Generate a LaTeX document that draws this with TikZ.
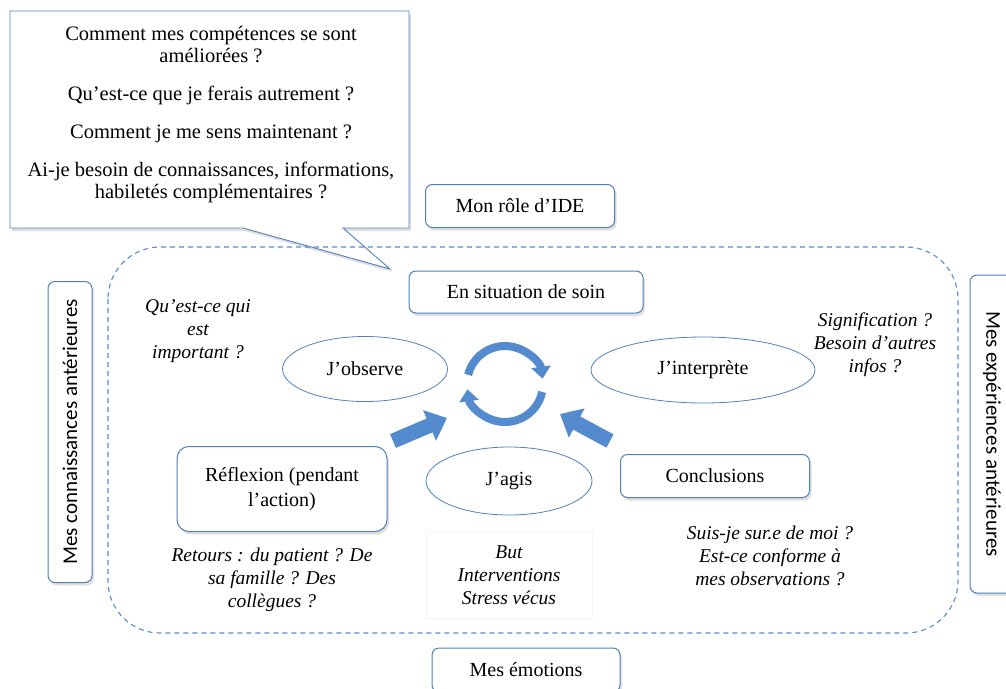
\documentclass[tikz,border=0pt]{standalone}
\usepackage{fontspec}
\setmainfont{Liberation Serif}
\newfontfamily\sidefont{Carlito}
\usepackage{tikz}
\usetikzlibrary{shapes,arrows.meta,positioning,shadows}
\definecolor{lineblue}{RGB}{79,129,189}
\definecolor{dashblue}{RGB}{86,140,205}
\definecolor{arrowblue}{RGB}{84,138,206}
\definecolor{faintgray}{RGB}{243,243,243}

\begin{document}
\begin{tikzpicture}[
    x=1pt, y=-1pt,
    box/.style={rectangle, draw=lineblue, line width=1pt, rounded corners=7pt, align=center, fill=white, font=\fontsize{20}{25}\selectfont, drop shadow={opacity=0.25, shadow xshift=2pt, shadow yshift=-3pt}},
    sidebox/.style={box, font=\sidefont\fontsize{21}{23}\selectfont, minimum height=44pt},
    oval/.style={ellipse, draw=lineblue, line width=0.8pt, align=center, font=\fontsize{20}{22}\selectfont},
    note/.style={align=center, font=\fontsize{19.5}{23}\selectfont\itshape},
    cyclearrow/.style={line width=8pt, draw=arrowblue, -{Triangle[width=19pt,length=12pt]}},
    bigarrow/.style={line width=15pt, draw=arrowblue, -{Triangle[width=32pt,length=19pt]}}
]
    \useasboundingbox (0,0) rectangle (1006,688);
    \clip (0,0) rectangle (1006,688);

    % callout
    \draw[draw=lineblue, line width=0.9pt, fill=white, drop shadow={opacity=0.25, shadow xshift=2pt, shadow yshift=-3pt}]
        (10,11) -- (409,11) -- (409,228) -- (343,228) -- (390,269) -- (243,228) -- (10,228) -- cycle;
    \node[align=center, font=\fontsize{20.5}{22}\selectfont] (bubble) at (211,115)
        {Comment mes compétences se sont\\améliorées ?\\[16pt]
         Qu’est-ce que je ferais autrement ?\\[16pt]
         Comment je me sens maintenant ?\\[16pt]
         Ai-je besoin de connaissances, informations,\\habiletés complémentaires ?};

    \draw[dashblue, line width=1.1pt, dash pattern=on 5pt off 4pt, rounded corners=52pt] (108,247) rectangle (958,633);

    \node[box, minimum width=189pt, minimum height=43pt] (role) at (520,206) {Mon rôle d’IDE};
    \node[box, minimum width=234pt, minimum height=42pt] (situ) at (526,292) {En situation de soin};

    \node[oval, minimum width=165pt, minimum height=65pt] (observe) at (365,369) {J’observe};
    \node[oval, minimum width=224pt, minimum height=66pt] (interp) at (703,370) {J’interprète};
    \node[oval, minimum width=166pt, minimum height=68pt] (agis) at (509,481) {J’agis};

    \node[box, rounded corners=12pt, minimum width=210pt, minimum height=85pt] (reflex) at (282,489) {Réflexion (pendant\\l’action)};
    \node[box, minimum width=189pt, minimum height=43pt] (concl) at (715,476) {Conclusions};
    \node[box, minimum width=188pt, minimum height=44pt] (emo) at (526,670) {Mes émotions};

    \node[sidebox, rotate=90, minimum width=301pt] (know) at (70,432) {Mes connaissances antérieures};
    \node[sidebox, rotate=-90, minimum width=318pt] (exper) at (992,434) {Mes expériences antérieures};

    \node[note] (important) at (198,331) {Qu’est-ce qui\\est\\important ?};
    \node[note] (signif) at (875,345) {Signification ?\\Besoin d’autres\\infos ?};
    \node[note] (retours) at (272,580) {Retours : du patient ? De\\sa famille ? Des\\collègues ?};
    \node[note, draw=faintgray, minimum width=166pt, minimum height=86pt] (but) at (509,575) {But\\Interventions\\Stress vécus};
    \node[note] (suis) at (770,556) {Suis-je sur.e de moi ?\\Est-ce conforme à\\mes observations ?};

    \coordinate (cycle) at (505,384);
    \draw[cyclearrow] (cycle) ++(194:38) arc[start angle=194, end angle=352, radius=38];
    \draw[cyclearrow] (cycle) ++(12:38) arc[start angle=12, end angle=172, radius=38];

    \coordinate (reflexTail) at (393,441);
    \coordinate (reflexTip) at (447,418);
    \coordinate (conclTail) at (610,441);
    \coordinate (conclTip) at (560,414);
    \draw[bigarrow] (reflexTail) -- (reflexTip);
    \draw[bigarrow] (conclTail) -- (conclTip);
\end{tikzpicture}
\end{document}
